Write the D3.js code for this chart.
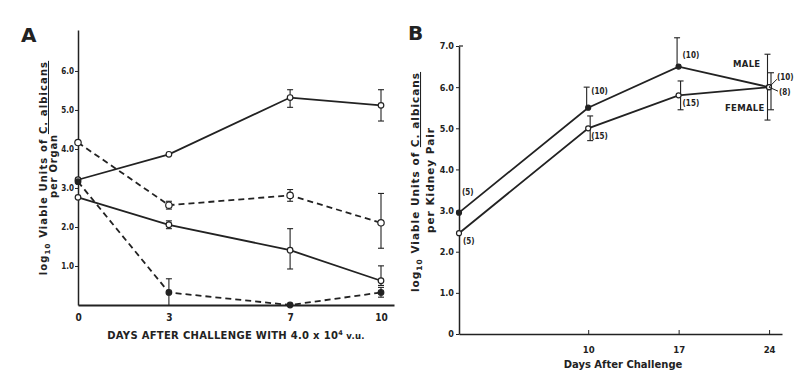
<!DOCTYPE html>
<html><head><meta charset="utf-8">
<script src="https://cdn.jsdelivr.net/npm/d3@7/dist/d3.min.js"></script>
<style>
body{margin:0;background:#fff}
text{font-family:"DejaVu Sans",sans-serif;font-weight:bold;fill:#222}
.cond{font-family:"DejaVu Sans Condensed","DejaVu Sans",sans-serif}
</style>
</head><body>
<svg id="c" width="795" height="374"></svg>
<script>
// ---------- Panel A data ----------
const daysA = [0, 3, 7, 10];
const xTicksA = [0, 3, 7, 10];
const yTicksA = [1, 2, 3, 4, 5, 6];
const a1Values = [3.2, 3.85, 5.3, 5.1];
const a1Lo = [null, null, 5.05, 4.7];
const a1Hi = [null, null, 5.5, 5.5];
const a2Values = [4.15, 2.55, 2.8, 2.1];
const a2Lo = [null, 2.45, 2.65, 1.45];
const a2Hi = [null, 2.65, 2.95, 2.85];
const a3Values = [2.75, 2.05, 1.4, 0.62];
const a3Lo = [null, 1.95, 0.92, 0.5];
const a3Hi = [null, 2.15, 1.95, 1.0];
const a4Values = [3.15, 0.32, 0.0, 0.32];
const a4Lo = [null, 0.0, null, 0.2];
const a4Hi = [null, 0.67, null, 0.45];

// ---------- Panel B data ----------
const daysB = [0, 10, 17, 24];
const xTicksB = [10, 17, 24];
const yTicksB = [0, 1, 2, 3, 4, 5, 6, 7];
const maleValues = [2.95, 5.5, 6.5, 6.0];
const maleLo = [null, null, null, 5.2];
const maleHi = [null, 6.0, 7.2, 6.8];
const femaleValues = [2.45, 5.0, 5.8, 6.0];
const femaleLo = [null, 4.7, 5.45, 5.45];
const femaleHi = [null, 5.3, 6.15, 6.35];
const maleN = ["(5)", "(10)", "(10)", "(10)"];
const femaleN = ["(5)", "(15)", "(15)", "(8)"];

const svg = d3.select("#c");
const INK = "#222";

function drawSeries(g, x, y, days, vals, lo, hi, opt) {
  const line = d3.line().x((d, i) => x(days[i])).y(d => y(d));
  g.append("path").datum(vals).attr("d", line).attr("fill", "none")
    .attr("stroke", INK).attr("stroke-width", 1.8)
    .attr("stroke-dasharray", opt.dash ? "6,4" : null);
  days.forEach((d, i) => {
    const xo = x(d) + (opt.barOffset || 0);
    if (hi[i] != null || lo[i] != null) {
      const top = hi[i] != null ? hi[i] : vals[i];
      const bot = lo[i] != null ? lo[i] : vals[i];
      g.append("line").attr("x1", xo).attr("x2", xo).attr("y1", y(top)).attr("y2", y(bot))
        .attr("stroke", INK).attr("stroke-width", 1.1);
      if (hi[i] != null) g.append("line").attr("x1", xo - 3).attr("x2", xo + 3)
        .attr("y1", y(hi[i])).attr("y2", y(hi[i])).attr("stroke", INK).attr("stroke-width", 1.1);
      if (lo[i] != null && lo[i] > 0) g.append("line").attr("x1", xo - 3).attr("x2", xo + 3)
        .attr("y1", y(lo[i])).attr("y2", y(lo[i])).attr("stroke", INK).attr("stroke-width", 1.1);
    }
  });
  g.selectAll(null).data(vals).enter().append("circle")
    .attr("cx", (d, i) => x(days[i])).attr("cy", d => y(d)).attr("r", opt.r || 2.8)
    .attr("fill", opt.filled ? INK : "#fff").attr("stroke", INK).attr("stroke-width", 1.2);
}

// ================= PANEL A =================
const xA = d3.scaleLinear().domain([0, 10]).range([78, 381]);
const yA = d3.scaleLinear().domain([0, 7]).range([305, 31]);
const gA = svg.append("g");

const xAxisA = d3.axisBottom(d3.scaleLinear().domain([0, 10.43]).range([78, 394]))
  .tickValues(xTicksA).tickSize(0).tickPadding(9).tickFormat(d3.format("d"));
gA.append("g").attr("transform", `translate(0,${yA(0)})`).call(xAxisA)
  .call(s => s.select(".domain").attr("stroke", INK).attr("stroke-width", 1.8))
  .call(s => s.selectAll("text").attr("font-size", 10).attr("fill", INK).attr("font-family", null).attr("class", "cond"));
const yAxisA = d3.axisLeft(d3.scaleLinear().domain([0, 7.05]).range([305, 30]))
  .tickValues(yTicksA).tickSize(3).tickPadding(1).tickFormat(d3.format(".1f")).tickSizeOuter(0);
gA.append("g").attr("transform", `translate(${xA(0)},0)`).call(yAxisA)
  .call(s => s.select(".domain").attr("stroke", INK).attr("stroke-width", 1.5))
  .call(s => s.selectAll("line").attr("stroke", INK))
  .call(s => s.selectAll("text").attr("font-size", 8).attr("fill", INK).attr("font-family", null).attr("class", "cond"));

drawSeries(gA, xA, yA, daysA, a1Values, a1Lo, a1Hi, {dash: false, filled: false});
drawSeries(gA, xA, yA, daysA, a2Values, a2Lo, a2Hi, {dash: true, filled: false, r: 3.2});
drawSeries(gA, xA, yA, daysA, a3Values, a3Lo, a3Hi, {dash: false, filled: false});
drawSeries(gA, xA, yA, daysA, a4Values, a4Lo, a4Hi, {dash: true, filled: true});

const tA = gA.append("text").attr("x", 236).attr("y", 339).attr("text-anchor", "middle")
  .attr("font-size", 10).attr("letter-spacing", 0.3);
tA.append("tspan").text("DAYS AFTER CHALLENGE WITH 4.0 x 10");
tA.append("tspan").attr("dy", -4).attr("font-size", 6.5).text("4");
tA.append("tspan").attr("dy", 4).attr("font-size", 8.5).text(" v.u.");

const ylA = gA.append("text").attr("transform", "translate(47,168) rotate(-90)")
  .attr("text-anchor", "middle").attr("font-size", 10).attr("letter-spacing", 1.1);
ylA.append("tspan").text("log");
ylA.append("tspan").attr("dy", 3).attr("font-size", 7).text("10");
ylA.append("tspan").attr("dy", -3).text(" Viable Units of ");
ylA.append("tspan").attr("text-decoration", "underline").text("C. albicans");
gA.append("text").attr("transform", "translate(57,166) rotate(-90)")
  .attr("text-anchor", "middle").attr("font-size", 10).attr("letter-spacing", 0.8).text("per Organ");

gA.append("text").attr("x", 21).attr("y", 42).attr("font-size", 20)
  .attr("font-family", "Liberation Sans, Arial").attr("fill", "#111").text("A");

// ================= PANEL B =================
const xB = d3.scaleLinear().domain([0, 24]).range([459, 769]);
const yB = d3.scaleLinear().domain([0, 7]).range([334, 46]);
const gB = svg.append("g");

const xAxisB = d3.axisBottom(d3.scaleLinear().domain([0, 25]).range([459, 782]))
  .tickValues(xTicksB).tickSize(-4).tickPadding(12).tickSizeOuter(0).tickFormat(d3.format("d"));
gB.append("g").attr("transform", `translate(0,${yB(0)})`).call(xAxisB)
  .call(s => s.select(".domain").attr("stroke", INK).attr("stroke-width", 1.6))
  .call(s => s.selectAll("line").attr("stroke", INK))
  .call(s => s.selectAll("text").attr("font-size", 9.5).attr("fill", INK).attr("font-family", null).attr("class", "cond"));
const yAxisB = d3.axisLeft(yB).tickValues(yTicksB).tickSize(3).tickPadding(2).tickSizeOuter(0)
  .tickFormat(d => d === 0 ? "0" : d3.format(".1f")(d));
gB.append("g").attr("transform", `translate(${xB(0)},0)`).call(yAxisB)
  .call(s => s.select(".domain").attr("stroke", INK).attr("stroke-width", 1.5))
  .call(s => s.selectAll("line").attr("stroke", INK))
  .call(s => s.selectAll("text").attr("font-size", 9).attr("fill", INK).attr("font-family", null).attr("class", "cond"));
gB.append("line").attr("x1", xB(0)).attr("x2", xB(0) + 4).attr("y1", yB(7)).attr("y2", yB(7))
  .attr("stroke", INK).attr("stroke-width", 1.2);

drawSeries(gB, xB, yB, daysB, maleValues, maleLo, maleHi, {dash: false, filled: true, r: 2.5, barOffset: -1.5});
drawSeries(gB, xB, yB, daysB, femaleValues, femaleLo, femaleHi, {dash: false, filled: false, r: 2.5, barOffset: 2});

const nFont = 8;
const maleOff = [[3, -18], [3, -14], [4, -9], [8, -7]];
const femaleOff = [[4, 11], [3, 11], [4, 11], [10, 8]];
daysB.forEach((d, i) => {
  gB.append("text").attr("class", "cond").attr("x", xB(d) + maleOff[i][0]).attr("y", yB(maleValues[i]) + maleOff[i][1])
    .attr("font-size", nFont).text(maleN[i]);
  gB.append("text").attr("class", "cond").attr("x", xB(d) + femaleOff[i][0]).attr("y", yB(femaleValues[i]) + femaleOff[i][1])
    .attr("font-size", nFont).text(femaleN[i]);
});
gB.append("line").attr("x1", xB(24)).attr("y1", yB(6)).attr("x2", xB(24) + 8).attr("y2", yB(6) - 8)
  .attr("stroke", INK).attr("stroke-width", 1);
gB.append("line").attr("x1", xB(24)).attr("y1", yB(6)).attr("x2", xB(24) + 9).attr("y2", yB(6) + 4)
  .attr("stroke", INK).attr("stroke-width", 1);

gB.append("text").attr("x", 733).attr("y", 67).attr("font-size", 8.5).attr("letter-spacing", 0.3).text("MALE");
gB.append("text").attr("x", 725).attr("y", 111).attr("font-size", 8.5).attr("letter-spacing", 0.3).text("FEMALE");

gB.append("text").attr("x", 623).attr("y", 368).attr("text-anchor", "middle")
  .attr("font-size", 10).attr("letter-spacing", 0).text("Days  After Challenge");

const ylB = gB.append("text").attr("transform", "translate(419,182) rotate(-90)")
  .attr("text-anchor", "middle").attr("font-size", 10.5).attr("letter-spacing", 1);
ylB.append("tspan").text("log");
ylB.append("tspan").attr("dy", 3).attr("font-size", 7.5).text("10");
ylB.append("tspan").attr("dy", -3).text(" Viable Units of ");
ylB.append("tspan").attr("text-decoration", "underline").text("C. albicans");
gB.append("text").attr("transform", "translate(434,180) rotate(-90)")
  .attr("text-anchor", "middle").attr("font-size", 10.5).attr("letter-spacing", 1).text("per Kidney Pair");

gB.append("text").attr("x", 408).attr("y", 40).attr("font-size", 20)
  .attr("font-family", "Liberation Sans, Arial").attr("fill", "#111").text("B");
</script>
</body></html>
